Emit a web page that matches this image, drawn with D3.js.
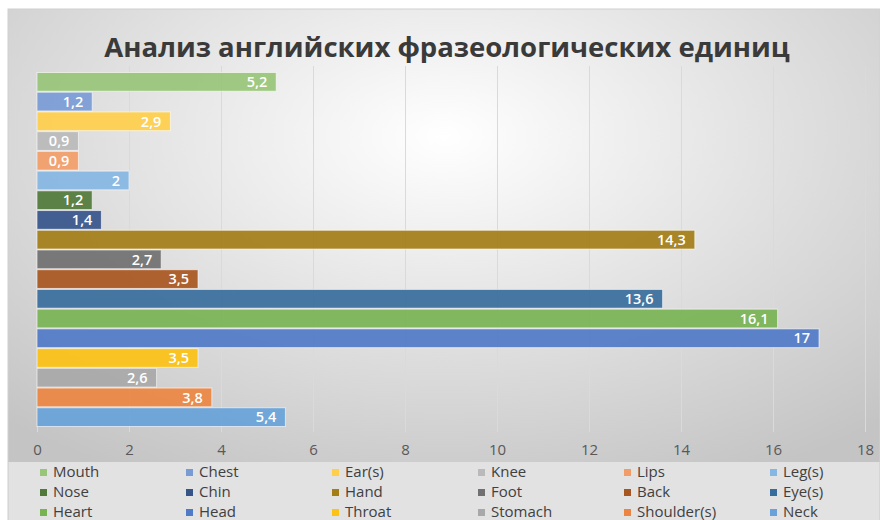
<!DOCTYPE html>
<html>
<head>
<meta charset="utf-8">
<script src="https://cdn.jsdelivr.net/npm/d3@7"></script>
<style>
  body { margin: 0; background: #fff; }
  text { font-family: "Open Sans", sans-serif; }
</style>
</head>
<body>
<div id="chart"></div>
<script>
// Data, top bar first
var categories = ["Mouth", "Chest", "Ear(s)", "Knee", "Lips", "Leg(s)", "Nose", "Chin", "Hand",
                  "Foot", "Back", "Eye(s)", "Heart", "Head", "Throat", "Stomach", "Shoulder(s)", "Neck"];
var values = [5.2, 1.2, 2.9, 0.9, 0.9, 2, 1.2, 1.4, 14.3, 2.7, 3.5, 13.6, 16.1, 17, 3.5, 2.6, 3.8, 5.4];
var colors = ["#98c679", "#789bd6", "#ffcf4c", "#bababa", "#f29d68", "#86b6e2", "#50793a", "#36548a", "#a37d16",
              "#707070", "#a8561f", "#386c9c", "#78b352", "#5079c8", "#fcc214", "#a8a8a8", "#eb8541", "#68a2d9"];
var xTicks = [0, 2, 4, 6, 8, 10, 12, 14, 16, 18];
var title = "Анализ английских фразеологических единиц";

var W = 880, H = 520;
var svg = d3.select("#chart").append("svg")
    .attr("width", W)
    .attr("height", H);

var defs = svg.append("defs");
var bg = defs.append("radialGradient")
    .attr("id", "bg")
    .attr("cx", "50%").attr("cy", "25%").attr("r", "75%");
bg.append("stop").attr("offset", "0%").attr("stop-color", "#ffffff");
bg.append("stop").attr("offset", "100%").attr("stop-color", "#c4c4c4");

var gridGrad = defs.append("linearGradient")
    .attr("id", "gridGrad")
    .attr("gradientUnits", "userSpaceOnUse")
    .attr("x1", 0).attr("y1", 66).attr("x2", 0).attr("y2", 432);
gridGrad.append("stop").attr("offset", "0%").attr("stop-color", "#dadada");
gridGrad.append("stop").attr("offset", "100%").attr("stop-color", "#a8a8a8");

// chart background
svg.append("rect")
    .attr("x", 8).attr("y", 9)
    .attr("width", W - 8).attr("height", H - 9)
    .attr("fill", "url(#bg)")
    .attr("stroke", "#d0d0d0");

// legend band
svg.append("rect")
    .attr("x", 8.5).attr("y", 462)
    .attr("width", W - 9).attr("height", H - 462)
    .attr("fill", "#e2e2e2");

svg.append("text")
    .attr("x", 447)
    .attr("y", 57)
    .attr("text-anchor", "middle")
    .attr("font-size", 27.5)
    .attr("font-weight", 700)
    .attr("fill", "#3a3a3a")
    .text(title);

var x = d3.scaleLinear().domain([0, 18]).range([37, 865]);
var y = d3.scaleBand()
    .domain(categories)
    .range([72.5, 426.5])
    .paddingInner(0.05);

// gridlines + tick labels
var axis = svg.append("g")
    .attr("transform", "translate(0,432)")
    .call(d3.axisBottom(x).tickValues(xTicks).tickSize(-366).tickPadding(12).tickFormat(d3.format("d")));
axis.select(".domain").remove();
axis.selectAll(".tick line").attr("stroke", "url(#gridGrad)").attr("stroke-width", 1);
axis.selectAll(".tick text")
    .attr("font-size", 15)
    .attr("font-family", "Open Sans, sans-serif")
    .attr("fill", "#595959");

// bars
svg.selectAll(".bar")
    .data(categories)
    .enter().append("rect")
    .attr("class", "bar")
    .attr("x", x(0))
    .attr("y", function(d) { return y(d); })
    .attr("width", function(d, i) { return x(values[i]) - x(0); })
    .attr("height", y.bandwidth())
    .attr("fill", function(d, i) { return colors[i]; })
    .attr("fill-opacity", 0.92)
    .attr("stroke", "rgba(255,255,255,0.6)")
    .attr("stroke-width", 1);

// data labels
svg.selectAll(".lbl")
    .data(categories)
    .enter().append("text")
    .attr("class", "lbl")
    .attr("x", function(d, i) { return x(values[i]) - 9; })
    .attr("y", function(d) { return y(d) + y.bandwidth() / 2; })
    .attr("dy", "0.36em")
    .attr("text-anchor", "end")
    .attr("font-size", 14.5)
    .attr("font-weight", 600)
    .attr("fill", "#fff")
    .text(function(d, i) { return String(values[i]).replace(".", ","); });

// legend
var legend = svg.selectAll(".leg")
    .data(categories)
    .enter().append("g")
    .attr("class", "leg")
    .attr("transform", function(d, i) {
      return "translate(" + (40 + (i % 6) * 146) + "," + (469 + Math.floor(i / 6) * 20) + ")";
    });
legend.append("rect")
    .attr("width", 7).attr("height", 7)
    .attr("fill", function(d, i) { return colors[i]; });
legend.append("text")
    .attr("x", 13)
    .attr("y", 8)
    .attr("font-size", 15)
    .attr("fill", "#404040")
    .text(function(d) { return d; });
</script>
</body>
</html>
